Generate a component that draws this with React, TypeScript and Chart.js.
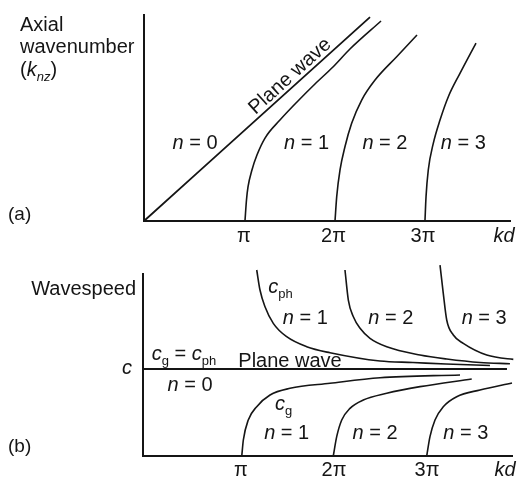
import { useEffect, useRef } from 'react';
import { Chart, registerables } from 'chart.js';

Chart.register(...registerables);

// kd is plotted in multiples of π
const kdTickValuesA = [1, 2, 3, 3.905];
const kdTickValuesB = [1, 2, 3, 3.84];
const kdTickLabels = ['π', '2π', '3π', 'kd'];

// (a) axial wavenumber k_nz against kd
const planeKdA = [-0.117, 2.408];
const planeKA = [0, 2.279];
const mode1KdA = [1.011, 1.028, 1.045, 1.089, 1.145, 1.235, 1.402, 1.603, 1.793, 1.994, 2.184, 2.531];
const mode1KA = [0, 0.235, 0.38, 0.57, 0.737, 0.927, 1.128, 1.341, 1.531, 1.721, 1.922, 2.235];
const mode2KdA = [2.017, 2.036, 2.073, 2.128, 2.203, 2.315, 2.464, 2.706, 2.933];
const mode2KA = [0, 0.272, 0.57, 0.83, 1.092, 1.352, 1.575, 1.836, 2.078];
const mode3KdA = [3.022, 3.034, 3.059, 3.115, 3.19, 3.283, 3.413, 3.592];
const mode3KA = [0, 0.272, 0.57, 0.868, 1.128, 1.389, 1.65, 1.989];

// (b) wavespeed in units of c against kd
const planeKdB = [-0.054, 3.86];
const planeCB = [1, 1];
const phase1Kd = [1.169, 1.204, 1.258, 1.347, 1.491, 1.706, 1.957, 2.495, 2.849, 3.204, 3.677];
const phase1C = [2.138, 1.908, 1.716, 1.525, 1.371, 1.256, 1.187, 1.092, 1.075, 1.057, 1.04];
const phase2Kd = [2.118, 2.154, 2.208, 2.28, 2.387, 2.567, 2.925, 3.212, 3.57, 3.892];
const phase2C = [2.138, 1.793, 1.601, 1.468, 1.353, 1.256, 1.161, 1.115, 1.075, 1.061];
const phase3Kd = [3.14, 3.175, 3.212, 3.283, 3.39, 3.642, 3.928, 4.022];
const phase3C = [2.195, 1.87, 1.563, 1.391, 1.295, 1.161, 1.111, 1.103];
const group1Kd = [1.008, 1.025, 1.078, 1.169, 1.312, 1.527, 1.957, 2.495, 3.355];
const group1C = [0, 0.184, 0.414, 0.567, 0.701, 0.778, 0.836, 0.9, 0.931];
const group2Kd = [1.992, 2.029, 2.083, 2.172, 2.315, 2.567, 2.925, 3.481];
const group2C = [0, 0.222, 0.414, 0.548, 0.644, 0.721, 0.797, 0.885];
const group3Kd = [2.997, 3.032, 3.086, 3.175, 3.319, 3.57, 3.914];
const group3C = [0, 0.222, 0.414, 0.567, 0.682, 0.759, 0.839];

const INK = '#151515';
const FAMILY = '"Liberation Sans", Arial, Helvetica, sans-serif';

type Pt = { x: number; y: number };
const zip = (xs: number[], ys: number[]): Pt[] => xs.map((x, i) => ({ x, y: ys[i] }));

const curve = (data: Pt[], width = 1.6) => ({
  data,
  borderColor: INK,
  borderWidth: width,
  pointRadius: 0,
  fill: false,
  cubicInterpolationMode: 'monotone' as const,
  clip: false as const,
});

type Run = { t: string; italic?: boolean; sub?: boolean };

function drawRuns(
  ctx: CanvasRenderingContext2D,
  runs: Run[],
  x: number,
  y: number,
  size: number,
  align: 'left' | 'center' | 'right' = 'left'
) {
  const fontFor = (r: Run) =>
    `${r.italic ? 'italic ' : ''}${r.sub ? Math.round(size * 0.66) : size}px ${FAMILY}`;
  const widths = runs.map((r) => {
    ctx.font = fontFor(r);
    return ctx.measureText(r.t).width;
  });
  const total = widths.reduce((a, b) => a + b, 0);
  let cx = align === 'left' ? x : align === 'center' ? x - total / 2 : x - total;
  ctx.save();
  ctx.fillStyle = INK;
  ctx.textAlign = 'left';
  ctx.textBaseline = 'alphabetic';
  runs.forEach((r, i) => {
    ctx.font = fontFor(r);
    ctx.fillText(r.t, cx, r.sub ? y + size * 0.24 : y);
    cx += widths[i];
  });
  ctx.restore();
}

const modeLabel = (n: number): Run[] => [{ t: 'n', italic: true }, { t: ` = ${n}` }];

const kdAxis = (min: number, max: number, values: number[], height: number, pad: number) => ({
  type: 'linear' as const,
  min,
  max,
  afterBuildTicks: (scale: any) => {
    scale.ticks = values.map((value) => ({ value }));
  },
  afterFit: (scale: any) => {
    scale.height = height;
  },
  grid: { display: false, drawTicks: false },
  border: { display: true, color: INK, width: 2 },
  ticks: {
    autoSkip: false,
    maxRotation: 0,
    padding: pad,
    color: INK,
    font: (c: any) => ({ family: FAMILY, size: 20, style: c.index === 3 ? 'italic' : 'normal' }),
    callback: (_v: any, i: number) => kdTickLabels[i],
  },
});

const valueAxis = (max: number) => ({
  type: 'linear' as const,
  min: 0,
  max,
  afterFit: (scale: any) => {
    scale.width = 0;
  },
  grid: { display: false, drawTicks: false },
  border: { display: true, color: INK, width: 2 },
  ticks: { display: false },
});

const panelALabels = {
  id: 'panelALabels',
  afterDatasetsDraw(chart: any) {
    const { ctx, scales } = chart;
    const xs = scales.x;
    const ys = scales.y;
    drawRuns(ctx, [{ t: 'Axial' }], 20, 31, 20);
    drawRuns(ctx, [{ t: 'wavenumber' }], 20, 53, 20);
    drawRuns(ctx, [{ t: '(' }, { t: 'k', italic: true }, { t: 'nz', italic: true, sub: true }, { t: ')' }], 20, 76, 20);
    drawRuns(ctx, [{ t: '(a)' }], 8, 220, 19);

    const base = ys.getPixelForValue(0.804);
    drawRuns(ctx, modeLabel(0), xs.getPixelForValue(0.453), base, 20, 'center');
    drawRuns(ctx, modeLabel(1), xs.getPixelForValue(1.7), base, 20, 'center');
    drawRuns(ctx, modeLabel(2), xs.getPixelForValue(2.575), base, 20, 'center');
    drawRuns(ctx, modeLabel(3), xs.getPixelForValue(3.45), base, 20, 'center');

    // label laid along the n = 0 line
    const x0 = xs.getPixelForValue(planeKdA[0]);
    const y0 = ys.getPixelForValue(planeKA[0]);
    const x1 = xs.getPixelForValue(planeKdA[1]);
    const y1 = ys.getPixelForValue(planeKA[1]);
    const ang = Math.atan2(y1 - y0, x1 - x0);
    const t = 0.505;
    const off = 4;
    const px = x0 + t * (x1 - x0) + Math.sin(ang) * off;
    const py = y0 + t * (y1 - y0) - Math.cos(ang) * off;
    ctx.save();
    ctx.translate(px, py);
    ctx.rotate(ang);
    drawRuns(ctx, [{ t: 'Plane wave' }], 0, 0, 20);
    ctx.restore();
  },
};

const panelBLabels = {
  id: 'panelBLabels',
  afterDatasetsDraw(chart: any) {
    const { ctx, scales } = chart;
    const xs = scales.x;
    const ys = scales.y;
    const X = (v: number) => xs.getPixelForValue(v);
    const Y = (v: number) => ys.getPixelForValue(v);
    drawRuns(ctx, [{ t: 'Wavespeed' }], 136, 50, 20, 'right');
    drawRuns(ctx, [{ t: 'c', italic: true }], 127, Y(1) + 5, 20, 'center');
    drawRuns(ctx, [{ t: '(b)' }], 8, 207, 19);

    drawRuns(ctx, [{ t: 'c', italic: true }, { t: 'ph', sub: true }], X(1.294), Y(1.874), 20);
    drawRuns(ctx, modeLabel(1), X(1.692), Y(1.517), 20, 'center');
    drawRuns(ctx, modeLabel(2), X(2.611), Y(1.517), 20, 'center');
    drawRuns(ctx, modeLabel(3), X(3.615), Y(1.517), 20, 'center');

    drawRuns(ctx, [{ t: 'Plane wave' }], X(0.971), Y(1.023), 20);
    drawRuns(
      ctx,
      [{ t: 'c', italic: true }, { t: 'g', sub: true }, { t: ' = ' }, { t: 'c', italic: true }, { t: 'ph', sub: true }],
      X(0.04),
      Y(1.103),
      20
    );
    drawRuns(ctx, modeLabel(0), X(0.452), Y(0.747), 20, 'center');

    drawRuns(ctx, [{ t: 'c', italic: true }, { t: 'g', sub: true }], X(1.366), Y(0.529), 20);
    drawRuns(ctx, modeLabel(1), X(1.491), Y(0.195), 20, 'center');
    drawRuns(ctx, modeLabel(2), X(2.441), Y(0.195), 20, 'center');
    drawRuns(ctx, modeLabel(3), X(3.417), Y(0.195), 20, 'center');
  },
};

export default function App() {
  const refA = useRef<HTMLCanvasElement>(null);
  const refB = useRef<HTMLCanvasElement>(null);

  useEffect(() => {
    const common = {
      responsive: false,
      animation: false as const,
      devicePixelRatio: 1,
      events: [] as any[],
      plugins: { legend: { display: false }, tooltip: { enabled: false } },
    };

    const chartA = new Chart(refA.current!, {
      type: 'line',
      data: {
        datasets: [
          curve(zip(planeKdA, planeKA), 1.8),
          curve(zip(mode1KdA, mode1KA)),
          curve(zip(mode2KdA, mode2KA)),
          curve(zip(mode3KdA, mode3KA)),
        ] as any,
      },
      options: {
        ...common,
        layout: { padding: { left: 144, right: 14, top: 15, bottom: 0 } },
        scales: {
          x: kdAxis(-0.117, 3.972, kdTickValuesA, 24, 3) as any,
          y: valueAxis(2.302) as any,
        },
      },
      plugins: [panelALabels],
    });

    const chartB = new Chart(refB.current!, {
      type: 'line',
      data: {
        datasets: [
          curve(zip(planeKdB, planeCB), 2),
          curve(zip(phase1Kd, phase1C)),
          curve(zip(phase2Kd, phase2C)),
          curve(zip(phase3Kd, phase3C)),
          curve(zip(group1Kd, group1C)),
          curve(zip(group2Kd, group2C)),
          curve(zip(group3Kd, group3C)),
        ] as any,
      },
      options: {
        ...common,
        layout: { padding: { left: 143, right: 12, top: 29, bottom: 0 } },
        scales: {
          x: kdAxis(-0.054, 3.914, kdTickValuesB, 26, 2) as any,
          y: valueAxis(2.092) as any,
        },
      },
      plugins: [panelBLabels],
    });

    return () => {
      chartA.destroy();
      chartB.destroy();
    };
  }, []);

  return (
    <div style={{ position: 'absolute', left: 0, top: 0, width: 524, height: 482, background: '#fff' }}>
      <canvas ref={refA} width={524} height={245} style={{ position: 'absolute', left: 0, top: 0 }} />
      <canvas ref={refB} width={524} height={237} style={{ position: 'absolute', left: 0, top: 245 }} />
    </div>
  );
}
